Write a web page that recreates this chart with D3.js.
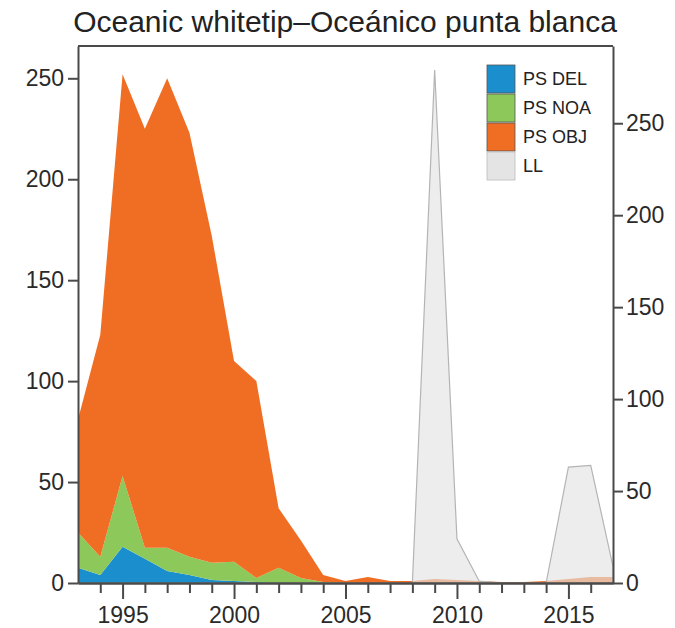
<!DOCTYPE html>
<html>
<head>
<meta charset="utf-8">
<script src="https://cdn.jsdelivr.net/npm/d3@7"></script>
<style>
  body { margin: 0; background: #fff; }
  svg { font-family: "Liberation Sans", Arial, sans-serif; }
  .axis path, .axis line { stroke: #4a4a4a; stroke-width: 2; }
  .axis text { fill: #2a2a2a; font-size: 23px; }
</style>
</head>
<body>
<div id="chart"></div>
<script>
// years 1993..2017
var years = d3.range(1993, 2018);
var psDel = [7.5, 4, 18, 12, 6, 4, 1.5, 1, 0.5, 0, 0, 0, 0, 0, 0, 0, 0, 0, 0, 0, 0, 0, 0, 0, 0];
var psNoa = [17.5, 9, 35, 5.5, 11.5, 9, 8.5, 9.5, 2, 7.5, 2.5, 0.5, 0, 0, 0, 0, 0, 0, 0, 0, 0, 0, 0, 0, 0];
var psObj = [56, 110, 199, 207.5, 232.5, 210, 162, 99.5, 97.5, 29.5, 18.5, 3.5, 1, 3, 1, 1, 2, 1.5, 1, 0.5, 0.5, 1, 2, 3, 3];
var ll = [0, 0, 0, 0, 0, 0, 0, 0, 0, 0, 0, 0, 0, 0, 0, 0, 279, 24, 1, 0, 0, 0, 63, 64, 9];
var leftTicks = [0, 50, 100, 150, 200, 250];
var rightTicks = [0, 50, 100, 150, 200, 250];
var majorYears = [1995, 2000, 2005, 2010, 2015];
var keys = ['PS DEL', 'PS NOA', 'PS OBJ'];
var colors = ['#1b8fce', '#8dc85b', '#f06e23'];
var llColor = '#e4e4e4';

var W = 675, H = 628;
var margin = {top: 46, right: 62, bottom: 45, left: 78},
    width = W - margin.left - margin.right,
    height = H - margin.top - margin.bottom;

var svg = d3.select('#chart').append('svg')
    .attr('width', W)
    .attr('height', H);

svg.append('text')
    .attr('x', 345)
    .attr('y', 32)
    .attr('text-anchor', 'middle')
    .style('font-size', '30px')
    .style('fill', '#222')
    .text('Oceanic whitetip\u2013Oce\u00e1nico punta blanca');

var g = svg.append('g')
    .attr('transform', 'translate(' + margin.left + ',' + margin.top + ')');

var x = d3.scaleLinear().domain([1993, 2017]).range([0, width]);
var yL = d3.scaleLinear().domain([0, 266]).range([height, 0]);
var yR = d3.scaleLinear().domain([0, 292]).range([height, 0]);

var rows = years.map(function (yr, i) {
    return {year: yr, 'PS DEL': psDel[i], 'PS NOA': psNoa[i], 'PS OBJ': psObj[i], LL: ll[i]};
});

var stack = d3.stack().keys(keys);
var layers = stack(rows);

var area = d3.area()
    .x(function (d) { return x(d.data.year); })
    .y0(function (d) { return yL(d[0]); })
    .y1(function (d) { return yL(d[1]); });

g.selectAll('.layer')
    .data(layers)
    .enter().append('path')
    .attr('class', 'layer')
    .attr('d', area)
    .style('fill', function (d, i) { return colors[i]; });

// longline on the right axis, drawn over the purse-seine layers
var llArea = d3.area()
    .x(function (d) { return x(d.year); })
    .y0(height)
    .y1(function (d) { return yR(d.LL); });

g.append('path')
    .datum(rows)
    .attr('d', llArea)
    .style('fill', llColor)
    .style('fill-opacity', 0.65)
    .style('stroke', '#b4b4b4')
    .style('stroke-width', 1.2);

// frame top
g.append('line')
    .attr('x1', 0).attr('x2', width)
    .attr('y1', 0).attr('y2', 0)
    .style('stroke', '#4a4a4a').style('stroke-width', 2);

g.append('g')
    .attr('class', 'axis')
    .call(d3.axisLeft(yL).tickValues(leftTicks).tickSize(10).tickPadding(4).tickSizeOuter(0));

g.append('g')
    .attr('class', 'axis')
    .attr('transform', 'translate(' + width + ',0)')
    .call(d3.axisRight(yR).tickValues(rightTicks).tickSize(10).tickPadding(3).tickSizeOuter(0));

var minorYears = years.filter(function (yr) { return majorYears.indexOf(yr) < 0 && yr > 1993 && yr < 2017; });

g.append('g')
    .attr('class', 'axis')
    .attr('transform', 'translate(0,' + height + ')')
    .call(d3.axisBottom(x).tickValues(minorYears).tickSize(10).tickSizeOuter(0).tickFormat(''));

g.append('g')
    .attr('class', 'axis')
    .attr('transform', 'translate(0,' + height + ')')
    .call(d3.axisBottom(x).tickValues(majorYears).tickSize(16).tickPadding(8).tickSizeOuter(0).tickFormat(d3.format('d')));

// legend
var legendItems = keys.concat(['LL']);
var legendColors = colors.concat([llColor]);
var legend = svg.append('g').attr('transform', 'translate(487,65)');
legend.selectAll('rect')
    .data(legendItems)
    .enter().append('rect')
    .attr('x', 0)
    .attr('y', function (d, i) { return i * 29; })
    .attr('width', 28)
    .attr('height', 28)
    .style('fill', function (d, i) { return legendColors[i]; })
    .style('stroke', function (d, i) { return i < 3 ? '#555' : '#bbb'; })
    .style('stroke-width', 0.8);
legend.selectAll('text')
    .data(legendItems)
    .enter().append('text')
    .attr('x', 36)
    .attr('y', function (d, i) { return i * 29 + 14; })
    .attr('dy', '0.35em')
    .style('font-size', '18px')
    .style('fill', '#222')
    .text(function (d) { return d; });
</script>
</body>
</html>
